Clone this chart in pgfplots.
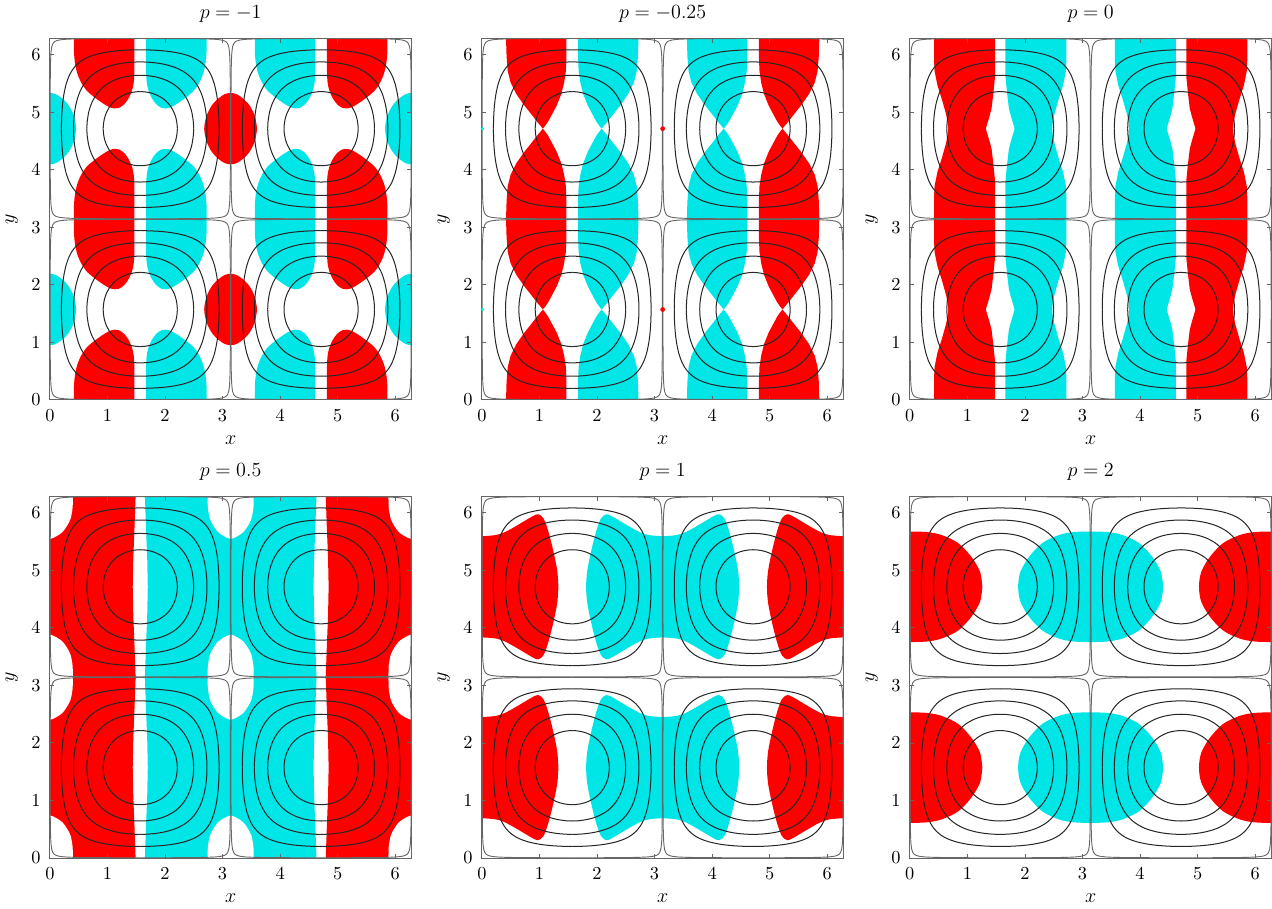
\documentclass[border=0pt]{standalone}
\usepackage{pgfplots}
\usepackage{pgfplotstable}
\pgfplotsset{compat=1.18}
\definecolor{rd}{RGB}{255,0,0}
\definecolor{cy}{RGB}{0,229,229}

% quarter arcs of the level sets sin(x)sin(y)=c, lower-left quarter of a cell
\pgfplotstableread{
x y
0.0050 1.5708
0.0059 1.0
0.0089 0.6
0.0128 0.4
0.0202 0.25
0.0335 0.15
0.0501 0.1
0.0707 0.0707
0.1 0.0501
0.15 0.0335
0.25 0.0202
0.4 0.0128
0.6 0.0089
1.0 0.0059
1.5708 0.0050
}\cZ
\pgfplotstableread{
x y
0.2014 1.5708
0.2043 1.4
0.2163 1.2
0.2400 1.0
0.2825 0.8
0.3368 0.65
0.3926 0.55
0.4636 0.4636
0.55 0.3926
0.65 0.3368
0.8 0.2825
1.0 0.2400
1.2 0.2163
1.4 0.2043
1.5708 0.2014
}\cA
\pgfplotstableread{
x y
0.4115 1.5708
0.4147 1.45
0.4281 1.3
0.4536 1.15
0.4954 1.0
0.5359 0.9
0.5915 0.8
0.6350 0.74
0.6847 0.6847
0.74 0.6350
0.8 0.5915
0.9 0.5359
1.0 0.4954
1.15 0.4536
1.3 0.4281
1.45 0.4147
1.5708 0.4115
}\cB
\pgfplotstableread{
x y
0.6435 1.5708
0.6490 1.45
0.6722 1.3
0.6994 1.2
0.7386 1.1
0.7938 1.0
0.8296 0.95
0.8861 0.8861
0.95 0.8296
1.0 0.7938
1.1 0.7386
1.2 0.6994
1.3 0.6722
1.45 0.6490
1.5708 0.6435
}\cC
\pgfplotstableread{
x y
0.9273 1.5708
0.9307 1.5
0.9472 1.4
0.9796 1.3
1.0320 1.2
1.0685 1.15
1.1071 1.1071
1.15 1.0685
1.2 1.0320
1.3 0.9796
1.4 0.9472
1.5 0.9307
1.5708 0.9273
}\cD

% p=-1: red lobe of the left column (y relative to its centre)
\pgfplotstableread{
x y
1.47 0
1.47 0.5
1.46 0.75
1.43 0.90
1.37 1.04
1.29 1.15
1.20 1.21
1.13 1.22
1.04 1.20
0.92 1.13
0.78 1.03
0.64 0.91
0.55 0.78
0.48 0.62
0.44 0.45
0.42 0.25
0.42 0
0.42 -0.25
0.44 -0.45
0.48 -0.62
0.55 -0.78
0.64 -0.91
0.78 -1.03
0.92 -1.13
1.04 -1.20
1.13 -1.22
1.20 -1.21
1.29 -1.15
1.37 -1.04
1.43 -0.90
1.46 -0.75
1.47 -0.5
1.47 0
}\blobA
% p=-1: small lobes on x=0, pi, 2pi
\pgfplotstableread{
x y
0.46 0
0.42 0.22
0.33 0.40
0.22 0.52
0.10 0.60
0 0.62
-0.10 0.60
-0.22 0.52
-0.33 0.40
-0.42 0.22
-0.46 0
-0.42 -0.22
-0.33 -0.40
-0.22 -0.52
-0.10 -0.60
0 -0.62
0.10 -0.60
0.22 -0.52
0.33 -0.40
0.42 -0.22
0.46 0
}\diamA
% p=-0.25: column piece between two pinches
\pgfplotstableread{
x y
1.47 0
1.47 0.3208
1.46 0.5708
1.43 0.7708
1.38 0.9708
1.30 1.1708
1.22 1.3208
1.15 1.4508
1.10 1.5208
1.06 1.5708
1.02 1.5208
0.96 1.4508
0.86 1.3208
0.74 1.1708
0.60 0.9708
0.50 0.7708
0.45 0.5708
0.43 0.3208
0.42 0
0.43 -0.3208
0.45 -0.5708
0.50 -0.7708
0.60 -0.9708
0.74 -1.1708
0.86 -1.3208
0.96 -1.4508
1.02 -1.5208
1.06 -1.5708
1.10 -1.5208
1.15 -1.4508
1.22 -1.3208
1.30 -1.1708
1.38 -0.9708
1.43 -0.7708
1.46 -0.5708
1.47 -0.3208
1.47 0
}\pinchB
% p=0: column piece between two notches
\pgfplotstableread{
x y
1.48 0
1.48 0.6708
1.45 0.9708
1.42 1.2208
1.38 1.3708
1.35 1.4708
1.32 1.5708
1.32 1.5958
0.67 1.5958
0.67 1.5708
0.66 1.4708
0.63 1.3208
0.56 1.0708
0.48 0.8208
0.43 0.5708
0.42 0.3708
0.42 0
0.42 -0.3708
0.43 -0.5708
0.48 -0.8208
0.56 -1.0708
0.63 -1.3208
0.66 -1.4708
0.67 -1.5708
0.67 -1.5958
1.32 -1.5958
1.32 -1.5708
1.35 -1.4708
1.38 -1.3708
1.42 -1.2208
1.45 -0.9708
1.48 -0.6708
1.48 0
}\notchC
% p=0.5: band piece and white holes
\pgfplotstableread{
x y
-0.3 -1.60
-0.3 1.60
1.49 1.60
1.49 1.5708
1.47 1.0
1.45 0.5
1.44 0
1.45 -0.5
1.47 -1.0
1.49 -1.5708
1.49 -1.60
-0.3 -1.60
}\bandD
\pgfplotstableread{
x y
0.40 0
0.395 0.2
0.36 0.39
0.30 0.51
0.22 0.62
0.12 0.69
0 0.74
-0.12 0.69
-0.22 0.62
-0.30 0.51
-0.36 0.39
-0.395 0.2
-0.40 0
-0.395 -0.2
-0.36 -0.39
-0.30 -0.51
-0.22 -0.62
-0.12 -0.69
0 -0.74
0.12 -0.69
0.22 -0.62
0.30 -0.51
0.36 -0.39
0.395 -0.2
0.40 0
}\holeD
% p=1
\pgfplotstableread{
x y
1.33 0
1.31 0.28
1.24 0.63
1.15 0.98
1.07 1.19
0.98 1.26
0.89 1.23
0.72 1.13
0.55 1.03
0.40 0.95
0.25 0.90
0 0.88
-0.25 0.90
-0.40 0.95
-0.55 1.03
-0.72 1.13
-0.89 1.23
-0.98 1.26
-1.07 1.19
-1.15 0.98
-1.24 0.63
-1.31 0.28
-1.33 0
-1.31 -0.28
-1.24 -0.63
-1.15 -0.98
-1.07 -1.19
-0.98 -1.26
-0.89 -1.23
-0.72 -1.13
-0.55 -1.03
-0.40 -0.95
-0.25 -0.90
0 -0.88
0.25 -0.90
0.40 -0.95
0.55 -1.03
0.72 -1.13
0.89 -1.23
0.98 -1.26
1.07 -1.19
1.15 -0.98
1.24 -0.63
1.31 -0.28
1.33 0
}\lobeE
% p=2
\pgfplotstableread{
x y
1.26 0
1.22 0.26
1.07 0.52
0.84 0.76
0.55 0.90
0.30 0.95
0 0.96
-0.30 0.95
-0.55 0.90
-0.84 0.76
-1.07 0.52
-1.22 0.26
-1.26 0
-1.22 -0.26
-1.07 -0.52
-0.84 -0.76
-0.55 -0.90
-0.30 -0.95
0 -0.96
0.30 -0.95
0.55 -0.90
0.84 -0.76
1.07 -0.52
1.22 -0.26
1.26 0
}\ovalF

\pgfplotsset{
  cline/.style={black!85, line width=0.6pt, smooth},
  sline/.style={black!60, line width=0.55pt, smooth},
  panel/.style={
    scale only axis, width=216pt, height=216pt, anchor=south west,
    xmin=0, xmax=6.28319, ymin=0, ymax=6.28319,
    xtick={0,1,...,6}, ytick={0,1,...,6},
    tick align=inside, major tick length=2.6pt,
    axis line style={line width=0.6pt, black!60},
    tick style={line width=0.5pt, black!60},
    axis on top,
    xlabel={$x$}, ylabel={$y$},
    tick label style={font=\fontsize{11}{13}\selectfont},
    xticklabel style={yshift=-2.5pt},
    yticklabel style={xshift=-2pt},
    label style={font=\fontsize{12}{14}\selectfont},
    xlabel style={at={(axis description cs:0.5,-0.111)}, anchor=center},
    ylabel style={at={(axis description cs:-0.105,0.5)}, anchor=center},
    every axis title/.style={font=\fontsize{12.5}{14}\selectfont, at={(axis description cs:0.5,1.067)}, anchor=center},
  },
}

% one quarter arc placed by reflection/shift
\newcommand\qa[6]{\addplot[#6] table[x expr={#2*\thisrow{x}+#3},y expr={#4*\thisrow{y}+#5}]{#1};}
\newcommand\cellc[4]{\qa{#1}{1}{#2}{1}{#3}{#4}\qa{#1}{-1}{#2+3.14159}{1}{#3}{#4}%
  \qa{#1}{1}{#2}{-1}{#3+3.14159}{#4}\qa{#1}{-1}{#2+3.14159}{-1}{#3+3.14159}{#4}}
\newcommand\levc[2]{\cellc{#1}{0}{0}{#2}\cellc{#1}{3.14159}{0}{#2}\cellc{#1}{0}{3.14159}{#2}\cellc{#1}{3.14159}{3.14159}{#2}}
\newcommand\contours{\levc{\cZ}{sline}\levc{\cA}{cline}\levc{\cB}{cline}\levc{\cC}{cline}\levc{\cD}{cline}}

% four column copies: red as is and mirrored at 2pi, cyan mirrored at pi and shifted by pi
\newcommand\colset[3]{%
  \addplot[fill=rd,draw=none,#2] table[x expr={\thisrow{x}},y expr={\thisrow{y}+#3}]{#1};
  \addplot[fill=rd,draw=none,#2] table[x expr={6.28319-\thisrow{x}},y expr={\thisrow{y}+#3}]{#1};
  \addplot[fill=cy,draw=none,#2] table[x expr={3.14159-\thisrow{x}},y expr={\thisrow{y}+#3}]{#1};
  \addplot[fill=cy,draw=none,#2] table[x expr={3.14159+\thisrow{x}},y expr={\thisrow{y}+#3}]{#1};}
\newcommand\blob[4]{\addplot[fill=#1,draw=none,smooth] table[x expr={\thisrow{x}+#3},y expr={\thisrow{y}+#4}]{#2};}

\begin{document}
\begin{tikzpicture}
% p = -1
\begin{axis}[panel, at={(0pt,273.6pt)}, title={$p=-1$}]
\colset{\blobA}{smooth}{0}\colset{\blobA}{smooth}{3.14159}\colset{\blobA}{smooth}{6.28319}
\blob{rd}{\diamA}{3.14159}{1.5708}\blob{rd}{\diamA}{3.14159}{4.7124}
\blob{cy}{\diamA}{0}{1.5708}\blob{cy}{\diamA}{0}{4.7124}
\blob{cy}{\diamA}{6.28319}{1.5708}\blob{cy}{\diamA}{6.28319}{4.7124}
\contours
\end{axis}
% p = -0.25
\begin{axis}[panel, at={(258pt,273.6pt)}, title={$p=-0.25$}]
\colset{\pinchB}{sharp plot}{0}\colset{\pinchB}{sharp plot}{3.14159}\colset{\pinchB}{sharp plot}{6.28319}
\contours
\addplot[only marks, mark=*, mark size=1.2pt, color=rd] coordinates {(3.14159,1.5708) (3.14159,4.7124)};
\addplot[only marks, mark=*, mark size=0.8pt, color=cy] coordinates {(0.01,1.5708) (0.01,4.7124)};
\end{axis}
% p = 0
\begin{axis}[panel, at={(513.6pt,273.6pt)}, title={$p=0$}]
\colset{\notchC}{sharp plot}{0}\colset{\notchC}{sharp plot}{3.14159}\colset{\notchC}{sharp plot}{6.28319}
\contours
\end{axis}
% p = 0.5
\begin{axis}[panel, at={(0pt,0pt)}, title={$p=0.5$}]
\colset{\bandD}{sharp plot}{1.5708}\colset{\bandD}{sharp plot}{4.7124}
\blob{white}{\holeD}{0}{0}\blob{white}{\holeD}{0}{3.14159}\blob{white}{\holeD}{0}{6.28319}
\blob{white}{\holeD}{3.14159}{0}\blob{white}{\holeD}{3.14159}{3.14159}\blob{white}{\holeD}{3.14159}{6.28319}
\blob{white}{\holeD}{6.28319}{0}\blob{white}{\holeD}{6.28319}{3.14159}\blob{white}{\holeD}{6.28319}{6.28319}
\contours
\end{axis}
% p = 1
\begin{axis}[panel, at={(258pt,0pt)}, title={$p=1$}]
\blob{rd}{\lobeE}{0}{1.5708}\blob{rd}{\lobeE}{0}{4.7124}
\blob{rd}{\lobeE}{6.28319}{1.5708}\blob{rd}{\lobeE}{6.28319}{4.7124}
\blob{cy}{\lobeE}{3.14159}{1.5708}\blob{cy}{\lobeE}{3.14159}{4.7124}
\contours
\end{axis}
% p = 2
\begin{axis}[panel, at={(513.6pt,0pt)}, title={$p=2$}]
\blob{rd}{\ovalF}{0}{1.5708}\blob{rd}{\ovalF}{0}{4.7124}
\blob{rd}{\ovalF}{6.28319}{1.5708}\blob{rd}{\ovalF}{6.28319}{4.7124}
\blob{cy}{\ovalF}{3.14159}{1.5708}\blob{cy}{\ovalF}{3.14159}{4.7124}
\contours
\end{axis}
\end{tikzpicture}
\end{document}
